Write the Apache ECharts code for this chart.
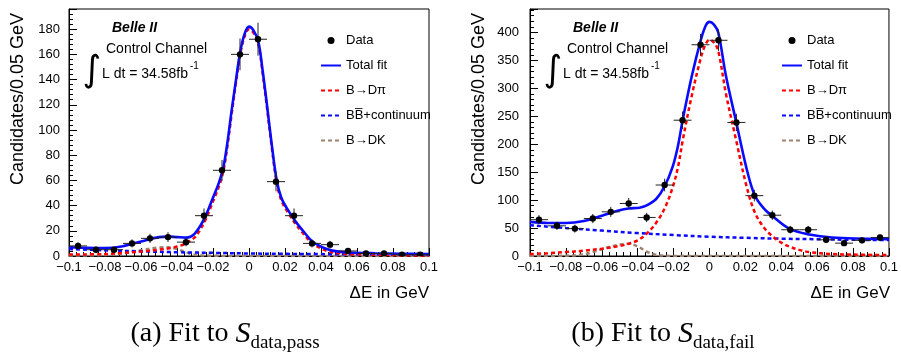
<!DOCTYPE html>
<html>
<head>
<meta charset="utf-8">
<script src="https://cdn.jsdelivr.net/npm/echarts@6/dist/echarts.min.js"></script>
<style>
  html, body { margin: 0; padding: 0; background: #fff; }
  #chart { width: 901px; height: 358px; }
</style>
</head>
<body>
<div id="chart"></div>
<script>
// ΔE bins (GeV), width 0.01
const binCenters = [-0.095, -0.085, -0.075, -0.065, -0.055, -0.045, -0.035, -0.025, -0.015, -0.005,
                     0.005, 0.015, 0.025, 0.035, 0.045, 0.055, 0.065, 0.075, 0.085, 0.095];
const binWidth = 0.01;

// Candidates per bin, passing selection
const passCounts = [8, 5, 5, 10, 14, 15, 11, 32, 68, 160, 172, 59, 32, 10, 9, 4, 2, 2, 1, 1];
const passErrors = [2.8, 2.2, 2.2, 3.2, 3.7, 3.9, 3.3, 5.7, 8.2, 12.6, 13.1, 7.7, 5.7, 3.2, 3.0, 2.0, 1.4, 1.4, 1.0, 1.0];

// Candidates per bin, failing selection
const failCounts = [65, 54, 49, 67, 79, 94, 69, 127, 243, 378, 386, 239, 108, 73, 47, 47, 29, 23, 28, 33];
const failErrors = [8.1, 7.3, 7.0, 8.2, 8.9, 9.7, 8.3, 11.3, 15.6, 19.4, 19.6, 15.5, 10.4, 8.5, 6.9, 6.9, 5.4, 4.8, 5.3, 5.7];

// Fit curves, pass sample
const passTotalFit = [[-0.1,7],[-0.09,6.5],[-0.08,6.3],[-0.07,7.8],[-0.06,11.5],[-0.05,15],[-0.045,15.4],[-0.04,15],
  [-0.035,14.6],[-0.0325,15.3],[-0.03,18],[-0.027,24],[-0.0244,31],[-0.022,39],[-0.0198,47],[-0.017,57],[-0.0143,70],
  [-0.012,90],[-0.0096,116],[-0.0073,139],[-0.005,161],[-0.0025,176],[0,182],[0.0025,179],[0.0052,170],[0.0075,148],
  [0.0098,122],[0.0125,90],[0.0154,60],[0.018,46],[0.021,38],[0.0256,28],[0.03,20],[0.0348,12],[0.04,7.5],[0.045,4.8],
  [0.05,3.5],[0.056,2.8],[0.07,2.2],[0.085,1.8],[0.1,1.5]];
const passDPi = [[-0.1,1.2],[-0.08,1.5],[-0.07,2.5],[-0.06,3.5],[-0.05,5],[-0.045,6],[-0.04,7.5],[-0.035,10],
  [-0.03,15],[-0.0275,20],[-0.0244,28],[-0.022,36],[-0.0198,44],[-0.017,54],[-0.0143,67],[-0.012,87],[-0.0096,113],
  [-0.0073,137],[-0.005,159],[-0.0025,174],[0,180],[0.0025,177],[0.0052,168],[0.0075,146],[0.0098,120],[0.0125,88],
  [0.0154,58],[0.018,44],[0.021,36],[0.0256,26],[0.03,18],[0.0348,10.5],[0.04,6],[0.045,3.3],[0.05,2.2],[0.056,1.5],
  [0.07,1],[0.085,0.6],[0.1,0.4]];
const passBBbar = [[-0.1,5.5],[-0.08,4.5],[-0.06,3.7],[-0.04,3],[-0.02,2.5],[0,2],[0.02,1.7],[0.04,1.5],[0.06,1.3],[0.08,1.2],[0.1,1.1]];
const passDK = [[-0.1,0.3],[-0.08,0.8],[-0.07,2],[-0.06,4.5],[-0.05,6.8],[-0.045,7],[-0.04,5.5],[-0.035,3],[-0.03,1],
  [-0.02,0.2],[0,0],[0.1,0]];

// Fit curves, fail sample
const failTotalFit = [[-0.1,61],[-0.09,59],[-0.08,59],[-0.07,62.5],[-0.06,72],[-0.05,82],[-0.045,85],[-0.039,86.5],
  [-0.0353,90],[-0.0297,102],[-0.0251,124],[-0.0205,160],[-0.0175,198],[-0.0149,244],[-0.01,320],[-0.0047,388],
  [-0.002,413],[0,419],[0.0025,414],[0.0049,400],[0.0092,322],[0.0148,241],[0.0204,160],[0.025,110],[0.03,86],
  [0.0352,71],[0.0444,49],[0.0556,38.5],[0.0684,33],[0.0871,31],[0.1,30]];
const failDPi = [[-0.1,3.5],[-0.09,5],[-0.08,7],[-0.07,9.5],[-0.06,13],[-0.05,18],[-0.045,22],[-0.04,28],[-0.035,40],
  [-0.03,58],[-0.025,85],[-0.0205,123],[-0.0175,160],[-0.0149,207],[-0.01,285],[-0.0047,356],[-0.002,380],[0,387],
  [0.0025,382],[0.0049,367],[0.0092,290],[0.0148,208],[0.0204,128],[0.025,80],[0.03,52],[0.0352,35],[0.04,24],
  [0.0444,17],[0.05,11],[0.0556,7],[0.0684,3.5],[0.08,2.5],[0.1,1.5]];
const failBBbar = [[-0.1,55],[-0.08,50],[-0.06,45.5],[-0.04,41],[-0.02,37.5],[0,34.5],[0.02,32.5],[0.04,31],[0.06,30],[0.08,29],[0.1,28.5]];
const failDK = [[-0.1,0],[-0.08,0.5],[-0.07,3],[-0.065,7],[-0.06,12],[-0.055,17],[-0.05,20.5],[-0.045,22],[-0.04,17],
  [-0.035,8],[-0.03,2.5],[-0.025,0.5],[-0.02,0],[0.1,0]];

// Axis ranges
const passYMax = 196, passYStep = 20;
const failYMax = 442, failYStep = 50;

const legendNames = ['Data', 'Total fit', 'B\u2192D\u03c0', 'BB\u0305+continuum', 'B\u2192DK'];

const SANS = 'Liberation Sans, Arial, Helvetica, sans-serif';
const SERIF = 'Liberation Serif, Times New Roman, serif';
const C_RED = '#ff0000', C_BLUE = '#0a0aff', C_BROWN = '#9f8270';

function fmtX(v) {
  const r = Math.round(v * 100) / 100;
  if (r === 0) return '0';
  return (r < 0 ? '\u2212' : '') + String(Math.abs(r));
}

function renderPoints(params, api) {
  const x = api.value(0), y = api.value(1), e = api.value(2);
  const c = api.coord([x, y]);
  const hi = api.coord([x, y + e]);
  const lo = api.coord([x, Math.max(0, y - e)]);
  const l = api.coord([x - binWidth / 2, y]);
  const r = api.coord([x + binWidth / 2, y]);
  return {
    type: 'group',
    children: [
      { type: 'line', shape: { x1: l[0], y1: c[1], x2: r[0], y2: c[1] }, style: { stroke: '#222', lineWidth: 1 } },
      { type: 'line', shape: { x1: c[0], y1: hi[1], x2: c[0], y2: lo[1] }, style: { stroke: '#222', lineWidth: 1 } },
      { type: 'circle', shape: { cx: c[0], cy: c[1], r: 3.2 }, style: { fill: '#000' } }
    ]
  };
}

function xAxisFor(gi) {
  return {
    type: 'value', gridIndex: gi, min: -0.1, max: 0.1, interval: 0.02,
    axisLine: { onZero: false, lineStyle: { color: '#000', width: 1 } },
    axisTick: { inside: true, length: 8, lineStyle: { color: '#000', width: 1 } },
    minorTick: { show: true, splitNumber: 5, length: 4, lineStyle: { color: '#000', width: 1 } },
    axisLabel: { formatter: fmtX, color: '#000', fontSize: 13, fontFamily: SANS, margin: 5 },
    splitLine: { show: false }
  };
}

function yAxisFor(gi, max, step, margin) {
  return {
    type: 'value', gridIndex: gi, min: 0, max: max, interval: step,
    axisLine: { show: true, onZero: false, lineStyle: { color: '#000', width: 1 } },
    axisTick: { inside: true, length: 8, lineStyle: { color: '#000', width: 1 } },
    minorTick: { show: true, splitNumber: 5, length: 4, lineStyle: { color: '#000', width: 1 } },
    axisLabel: { color: '#000', fontSize: 13, fontFamily: SANS, margin: margin, showMaxLabel: false },
    splitLine: { show: false }
  };
}

function panelSeries(gi, counts, errors, total, dpi, bb, dk) {
  const line = (name, data, color, dashed, z) => ({
    name, type: 'line', xAxisIndex: gi, yAxisIndex: gi, data, smooth: 0.35, symbol: 'none',
    lineStyle: { color, width: dashed ? 2.5 : 2.6, type: dashed ? [4, 3] : 'solid' },
    itemStyle: { color }, z, silent: true, clip: true
  });
  return [
    line(legendNames[4], dk, C_BROWN, true, 2),
    line(legendNames[3], bb, C_BLUE, true, 3),
    line(legendNames[2], dpi, C_RED, true, 4),
    line(legendNames[1], total, C_BLUE, false, 5),
    {
      name: legendNames[0], type: 'custom', xAxisIndex: gi, yAxisIndex: gi,
      data: binCenters.map((x, i) => [x, counts[i], errors[i]]),
      encode: { x: 0, y: 1 }, renderItem: renderPoints, z: 6, clip: true,
      itemStyle: { color: '#000' }
    }
  ];
}

function legendFor(left) {
  return {
    orient: 'vertical', left: left, top: 34, padding: 0, itemWidth: 20, itemHeight: 7, itemGap: 12,
    selectedMode: false,
    itemStyle: { opacity: 0 },
    textStyle: { color: '#000', fontSize: 13, fontFamily: SANS },
    data: [
      { name: legendNames[0], icon: 'circle', itemStyle: { color: '#000', opacity: 1 } },
      legendNames[1], legendNames[2], legendNames[3], legendNames[4]
    ]
  };
}

function panelText(dx, caption) {
  return [
    { type: 'text', x: 112 + dx, y: 28, style: { text: 'Belle II', font: 'italic bold 14px ' + SANS, fill: '#000', verticalAlign: 'middle' } },
    { type: 'text', x: 106 + dx, y: 49, style: { text: 'Control Channel', font: '14px ' + SANS, fill: '#000', verticalAlign: 'middle' } },
    { type: 'text', x: 92 + dx, y: 72, style: { text: '\u222b', font: '36px DejaVu Sans', fill: '#000', align: 'center', verticalAlign: 'middle' } },
    { type: 'text', x: 102 + dx, y: 74, style: { text: 'L dt = 34.58fb', font: '14px ' + SANS, fill: '#000', verticalAlign: 'middle' } },
    { type: 'text', x: 190 + dx, y: 66, style: { text: '-1', font: '10px ' + SANS, fill: '#000', verticalAlign: 'middle' } },
    { type: 'text', x: 18 + dx, y: 13, rotation: Math.PI / 2,
      style: { text: 'Candidates/0.05 GeV', font: '18px ' + SANS, fill: '#000', align: 'right', verticalAlign: 'middle' } },
    { type: 'text', x: 429 + dx, y: 293, style: { text: '\u0394E in GeV', font: '17px ' + SANS, fill: '#000', align: 'right', verticalAlign: 'middle' } },
    caption
  ];
}

function captionText(cx, label, sub) {
  return {
    type: 'text', x: cx, y: 334,
    style: {
      text: '{n|' + label + ' Fit to }{s|S}{b|' + sub + '}',
      align: 'center', verticalAlign: 'middle', fill: '#000',
      rich: {
        n: { fontFamily: SERIF, fontSize: 28, lineHeight: 38, verticalAlign: 'middle' },
        s: { fontFamily: SERIF, fontSize: 30, fontStyle: 'italic', lineHeight: 38, verticalAlign: 'middle' },
        b: { fontFamily: SERIF, fontSize: 19, lineHeight: 38, verticalAlign: 'bottom' }
      }
    }
  };
}

const chart = echarts.init(document.getElementById('chart'), null, { renderer: 'canvas' });
chart.setOption({
  animation: false,
  backgroundColor: '#fff',
  grid: [
    { left: 69, top: 9, width: 360, height: 247, show: true, borderColor: '#000', borderWidth: 1 },
    { left: 530, top: 9, width: 360, height: 247, show: true, borderColor: '#000', borderWidth: 1 }
  ],
  xAxis: [xAxisFor(0), xAxisFor(1)],
  yAxis: [yAxisFor(0, passYMax, passYStep, 9), yAxisFor(1, failYMax, failYStep, 11)],
  legend: [legendFor(320), legendFor(781)],
  series: [
    ...panelSeries(0, passCounts, passErrors, passTotalFit, passDPi, passBBbar, passDK),
    ...panelSeries(1, failCounts, failErrors, failTotalFit, failDPi, failBBbar, failDK)
  ],
  graphic: [
    ...panelText(0, captionText(225, '(a)', 'data,pass')),
    ...panelText(461, captionText(663, '(b)', 'data,fail'))
  ]
});
</script>
</body>
</html>
